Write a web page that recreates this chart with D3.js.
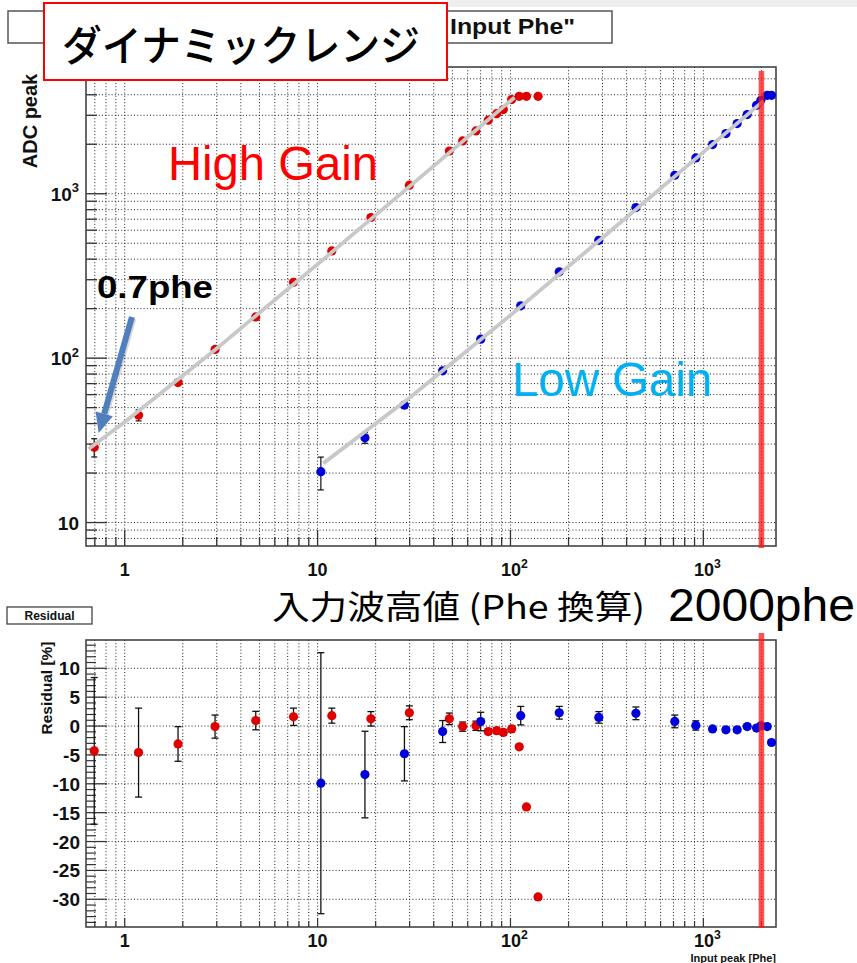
<!DOCTYPE html>
<html><head><meta charset="utf-8">
<script src="https://cdn.jsdelivr.net/npm/d3@7"></script>
<style>body{margin:0;background:#fff}svg{display:block}</style>
</head><body><svg id="c" width="857" height="963"></svg>
<script>
// ---- High Gain data (input phe, ADC peak, residual %, residual error %)
const hgX = [0.695, 1.18, 1.89, 2.94, 4.78, 7.5, 11.85, 18.9, 29.9, 48.2, 56.5, 66.2, 76.7, 84.8, 91.8, 101.4, 111, 121, 139];
const hgY = [28.7, 45, 71, 113, 178, 289, 449, 717, 1127, 1820, 2095, 2410, 2800, 3070, 3250, 3740, 3915, 3915, 3915];
const hgRes = [-4.3, -4.6, -3.1, -0.1, 0.95, 1.6, 1.8, 1.25, 2.3, 1.25, -0.1, 0.05, -0.95, -0.8, -1.1, -0.5, -3.6, -14.0, -29.6];
const hgResErr = [12.7, 7.7, 3.0, 2.0, 1.6, 1.5, 1.3, 1.25, 1.2, 1.0, 0.8, 0.8, 0.5, 0.5, 0.5, 0.5, 0.4, 0.4, 0.4];
// ---- Low Gain data
const lgX = [10.4, 17.6, 28.2, 44.5, 70.1, 113, 179, 287, 447, 711, 914, 1116, 1309, 1497, 1687, 1887, 1987, 2142, 2256];
const lgY = [20.4, 32.8, 51.8, 83.7, 130.4, 208, 335, 521, 824, 1295, 1651, 1991, 2322, 2672, 3030, 3450, 3700, 3970, 3970];
const lgRes = [-9.9, -8.4, -4.8, -0.95, 0.78, 1.8, 2.3, 1.5, 2.2, 0.8, 0.1, -0.5, -0.65, -0.65, -0.1, -0.35, 0.05, -0.1, -2.85];
const lgResErr = [22.6, 7.5, 4.7, 1.9, 1.6, 1.6, 1.1, 1.0, 1.1, 1.1, 0.8, 0.4, 0.4, 0.4, 0.4, 0.4, 0.4, 0.4, 0.4];
// ---- fit lines
const hgFitX = [0.65, 1, 3, 10, 30, 105];
const hgFitY = [28.0, 40.9, 114.6, 372.5, 1109, 3850];
const lgFitX = [10.7, 30, 100, 300, 1000, 2050];
const lgFitY = [22.9, 57.4, 182.5, 540, 1791, 3667];
// ---- tick labels
const xMajor = [1, 10, 100, 1000];
const xMajorLabels = ["1", "10", "10^2", "10^3"];
const yTopMajor = [10, 100, 1000];
const yTopLabels = ["10", "10^2", "10^3"];
const yBotMajor = [10, 5, 0, -5, -10, -15, -20, -25, -30];
const yBotLabels = ["10", "5", "0", "-5", "-10", "-15", "-20", "-25", "-30"];
const limitPhe = 2000;
const arrowFrom = [1.09, 178], arrowTo = [0.733, 35];

const svg = d3.select('#c');
const F = '"Liberation Sans", Arial, Helvetica, sans-serif';
const J = '"Noto Sans CJK JP", sans-serif';
const RED = '#e00000', BLUE = '#0000dd', GRID = '#222';

function supText(sel, txt, fs) {
  const p = txt.split('^');
  sel.append('tspan').text(p[0]);
  if (p.length > 1) sel.append('tspan').attr('dy', -fs * 0.45).attr('font-size', fs * 0.68).text(p[1]);
}

svg.append('rect').attr('width', 857).attr('height', 963).attr('fill', '#fff');
svg.append('rect').attr('x', 447).attr('y', 0).attr('width', 410).attr('height', 7).attr('fill', '#efefef');

// ================= TOP PLOT =================
const T = {l: 86, r: 776, t: 67, b: 546};
const x = d3.scaleLog().domain([0.63, 2380]).range([T.l, T.r]);
const y = d3.scaleLog().domain([7.2, 5900]).range([T.b, T.t]);
const isDec = v => Math.abs(Math.log10(Math.abs(v)) - Math.round(Math.log10(Math.abs(v)))) < 1e-6;
const xt = x.ticks(), yt = y.ticks();

const gT = svg.append('g');
gT.selectAll('.vg').data(xt).join('line').attr('x1', d => x(d)).attr('x2', d => x(d)).attr('y1', T.t).attr('y2', T.b)
  .attr('stroke', GRID).attr('stroke-width', 1).attr('stroke-dasharray', '1,2.2');
gT.selectAll('.hg').data(yt).join('line').attr('y1', d => y(d)).attr('y2', d => y(d)).attr('x1', T.l).attr('x2', T.r)
  .attr('stroke', GRID).attr('stroke-width', 1).attr('stroke-dasharray', '1,2.2');
// ticks
gT.selectAll('.yt').data(yt).join('line').attr('x1', T.l).attr('x2', d => T.l + (isDec(d) ? 21 : 11))
  .attr('y1', d => y(d)).attr('y2', d => y(d)).attr('stroke', '#333').attr('stroke-width', 1.3);
gT.selectAll('.xt').data(xt).join('line').attr('y1', T.b).attr('y2', d => T.b - (isDec(d) ? 16 : 9))
  .attr('x1', d => x(d)).attr('x2', d => x(d)).attr('stroke', '#333').attr('stroke-width', 1.3);
gT.append('rect').attr('x', T.l).attr('y', T.t).attr('width', T.r - T.l).attr('height', T.b - T.t)
  .attr('fill', 'none').attr('stroke', '#444').attr('stroke-width', 1.6);
// tick labels
yTopMajor.forEach((v, i) => {
  const t = gT.append('text').attr('x', 79).attr('y', y(v) + 7).attr('text-anchor', 'end')
    .attr('font-family', F).attr('font-weight', 'bold').attr('font-size', 19).attr('fill', '#111');
  supText(t, yTopLabels[i], 19);
});
xMajor.forEach((v, i) => {
  const t = gT.append('text').attr('x', x(v) + (i > 1 ? 4 : 0)).attr('y', 576).attr('text-anchor', 'middle')
    .attr('font-family', F).attr('font-weight', 'bold').attr('font-size', 18).attr('fill', '#111');
  supText(t, xMajorLabels[i], 18);
});
gT.append('text').attr('transform', 'translate(37,121) rotate(-90)').attr('text-anchor', 'middle')
  .attr('font-family', F).attr('font-weight', 'bold').attr('font-size', 20).attr('fill', '#111').text('ADC peak');

// error bars top
function errBarsTop(X, Y, E) {
  const d = X.map((v, i) => ({x: v, y: Y[i], e: Y[i] * E[i] / 100}));
  const g = gT.append('g').attr('stroke', '#111').attr('stroke-width', 1.2);
  g.selectAll('line.v').data(d).join('line').attr('x1', d => x(d.x)).attr('x2', d => x(d.x))
    .attr('y1', d => y(d.y - d.e)).attr('y2', d => y(d.y + d.e));
  g.selectAll('line.a').data(d).join('line').attr('x1', d => x(d.x) - 3).attr('x2', d => x(d.x) + 3)
    .attr('y1', d => y(d.y - d.e)).attr('y2', d => y(d.y - d.e));
  g.selectAll('line.b').data(d).join('line').attr('x1', d => x(d.x) - 3).attr('x2', d => x(d.x) + 3)
    .attr('y1', d => y(d.y + d.e)).attr('y2', d => y(d.y + d.e));
}
errBarsTop(hgX, hgY, hgResErr);
errBarsTop(lgX, lgY, lgResErr);
gT.selectAll('.hp').data(hgX).join('circle').attr('cx', d => x(d)).attr('cy', (d, i) => y(hgY[i])).attr('r', 4.6).attr('fill', RED);
gT.selectAll('.lp').data(lgX).join('circle').attr('cx', d => x(d)).attr('cy', (d, i) => y(lgY[i])).attr('r', 4.6).attr('fill', BLUE);
const line = d3.line().x(d => x(d[0])).y(d => y(d[1]));
gT.append('path').attr('d', line(hgFitX.map((v, i) => [v, hgFitY[i]]))).attr('fill', 'none')
  .attr('stroke', '#c8c8c8').attr('stroke-width', 3.8);
gT.append('path').attr('d', line(lgFitX.map((v, i) => [v, lgFitY[i]]))).attr('fill', 'none')
  .attr('stroke', '#c8c8c8').attr('stroke-width', 3.8);
// red limit line
gT.append('line').attr('x1', x(limitPhe)).attr('x2', x(limitPhe)).attr('y1', 71).attr('y2', 548)
  .attr('stroke', 'rgba(255,20,20,0.75)').attr('stroke-width', 5.5);

// annotations
gT.append('text').attr('x', 168).attr('y', 180).attr('font-family', F).attr('font-size', 48)
  .attr('textLength', 210).attr('lengthAdjust', 'spacingAndGlyphs').attr('fill', '#ff0000').text('High Gain');
gT.append('text').attr('x', 512).attr('y', 396).attr('font-family', F).attr('font-size', 48)
  .attr('textLength', 200).attr('lengthAdjust', 'spacingAndGlyphs').attr('fill', '#00b0f0').text('Low Gain');
gT.append('text').attr('x', 97).attr('y', 298).attr('font-family', F).attr('font-weight', 'bold').attr('font-size', 31)
  .attr('textLength', 116).attr('lengthAdjust', 'spacingAndGlyphs').attr('fill', '#000').text('0.7phe');
// arrow
{
  const x0 = x(arrowFrom[0]), y0 = y(arrowFrom[1]), x1 = x(arrowTo[0]), y1 = y(arrowTo[1]);
  const L = Math.hypot(x1 - x0, y1 - y0), ux = (x1 - x0) / L, uy = (y1 - y0) / L, nx = -uy, ny = ux;
  const hl = 20, hw = 9, bx = x1 - hl * ux, by = y1 - hl * uy;
  const ga = gT.append('g');
  ga.append('line').attr('x1', x0 + 1.5).attr('y1', y0 + 1.5).attr('x2', bx + 1.5).attr('y2', by + 1.5).attr('stroke', 'rgba(0,0,0,0.15)').attr('stroke-width', 6);
  ga.append('line').attr('x1', x0).attr('y1', y0).attr('x2', bx).attr('y2', by).attr('stroke', '#4f7fbd').attr('stroke-width', 6);
  ga.append('path').attr('d', `M${x1},${y1}L${bx + hw * nx},${by + hw * ny}L${bx - hw * nx},${by - hw * ny}Z`).attr('fill', '#4f7fbd');
}

// title boxes
svg.append('rect').attr('x', 8).attr('y', 11).attr('width', 604).attr('height', 32).attr('fill', '#fff').attr('stroke', '#555').attr('stroke-width', 1.5);
svg.append('text').attr('x', 450).attr('y', 34).attr('font-family', F).attr('font-weight', 'bold').attr('font-size', 22)
  .attr('textLength', 125).attr('lengthAdjust', 'spacingAndGlyphs').attr('fill', '#111').text('Input Phe"');
svg.append('rect').attr('x', 44).attr('y', 3).attr('width', 403).attr('height', 77).attr('fill', '#fff').attr('stroke', '#ff0000').attr('stroke-width', 2);
svg.append('text').attr('x', 62).attr('y', 42).attr('dominant-baseline', 'central').attr('font-family', J).attr('font-weight', 500).attr('font-size', 42)
  .attr('textLength', 358).attr('lengthAdjust', 'spacingAndGlyphs').attr('fill', '#000').text('ダイナミックレンジ');

// x title texts
svg.append('text').attr('x', 272).attr('y', 605).attr('dominant-baseline', 'central').attr('font-family', J).attr('font-size', 33)
  .attr('textLength', 373).attr('lengthAdjust', 'spacingAndGlyphs').attr('fill', '#000').text('入力波高値 (Phe 換算)');
svg.append('text').attr('x', 668).attr('y', 621).attr('font-family', F).attr('font-size', 46)
  .attr('textLength', 187).attr('lengthAdjust', 'spacingAndGlyphs').attr('fill', '#000').text('2000phe');

// ================= BOTTOM PLOT =================
const B = {l: 86, r: 776, t: 640, b: 927};
const yb = d3.scaleLinear().domain([-34.8, 14.9]).range([B.b, B.t]);
const gB = svg.append('g');
gB.append('rect').attr('x', 7).attr('y', 607).attr('width', 85).attr('height', 17).attr('fill', '#fff').attr('stroke', '#444').attr('stroke-width', 1.3);
gB.append('text').attr('x', 49.5).attr('y', 620).attr('text-anchor', 'middle').attr('font-family', F).attr('font-weight', 'bold')
  .attr('font-size', 12).attr('fill', '#111').text('Residual');
gB.selectAll('.vg').data(xt).join('line').attr('x1', d => x(d)).attr('x2', d => x(d)).attr('y1', B.t).attr('y2', B.b)
  .attr('stroke', GRID).attr('stroke-width', 1).attr('stroke-dasharray', '1,2.2');
gB.selectAll('.hg').data(yBotMajor).join('line').attr('y1', d => yb(d)).attr('y2', d => yb(d)).attr('x1', B.l).attr('x2', B.r)
  .attr('stroke', GRID).attr('stroke-width', 1).attr('stroke-dasharray', '1,2.2');
const ybt = d3.range(-34, 15, 1);
gB.selectAll('.yt').data(ybt).join('line').attr('x1', B.l).attr('x2', d => B.l + (d % 5 === 0 ? 21 : 10))
  .attr('y1', d => yb(d)).attr('y2', d => yb(d)).attr('stroke', '#333').attr('stroke-width', 1.2);
gB.selectAll('.xt').data(xt).join('line').attr('y1', B.b).attr('y2', d => B.b - (isDec(d) ? 9 : 6))
  .attr('x1', d => x(d)).attr('x2', d => x(d)).attr('stroke', '#333').attr('stroke-width', 1.2);
gB.append('rect').attr('x', B.l).attr('y', B.t).attr('width', B.r - B.l).attr('height', B.b - B.t)
  .attr('fill', 'none').attr('stroke', '#444').attr('stroke-width', 1.6);
yBotMajor.forEach((v, i) => {
  gB.append('text').attr('x', 80).attr('y', yb(v) + 7).attr('text-anchor', 'end').attr('font-family', F).attr('font-weight', 'bold')
    .attr('font-size', 19).attr('fill', '#111').text(yBotLabels[i]);
});
xMajor.forEach((v, i) => {
  const t = gB.append('text').attr('x', x(v) + (i > 1 ? 4 : 0)).attr('y', 947).attr('text-anchor', 'middle')
    .attr('font-family', F).attr('font-weight', 'bold').attr('font-size', 18).attr('fill', '#111');
  supText(t, xMajorLabels[i], 18);
});
gB.append('text').attr('transform', 'translate(52,688) rotate(-90)').attr('text-anchor', 'middle')
  .attr('font-family', F).attr('font-weight', 'bold').attr('font-size', 15.5).attr('fill', '#111').text('Residual [%]');
gB.append('text').attr('x', 776).attr('y', 962).attr('text-anchor', 'end').attr('font-family', F).attr('font-weight', 'bold')
  .attr('font-size', 11).attr('fill', '#111').text('Input peak  [Phe]');

function resSeries(X, R, E, col) {
  const d = X.map((v, i) => ({x: v, r: R[i], e: E[i]}));
  const g = gB.append('g');
  const ge = g.append('g').attr('stroke', '#111').attr('stroke-width', 1.3);
  ge.selectAll('line.v').data(d).join('line').attr('x1', d => x(d.x)).attr('x2', d => x(d.x))
    .attr('y1', d => yb(d.r - d.e)).attr('y2', d => yb(d.r + d.e));
  ge.selectAll('line.a').data(d).join('line').attr('x1', d => x(d.x) - 3.5).attr('x2', d => x(d.x) + 3.5)
    .attr('y1', d => yb(d.r - d.e)).attr('y2', d => yb(d.r - d.e));
  ge.selectAll('line.b').data(d).join('line').attr('x1', d => x(d.x) - 3.5).attr('x2', d => x(d.x) + 3.5)
    .attr('y1', d => yb(d.r + d.e)).attr('y2', d => yb(d.r + d.e));
  g.selectAll('circle').data(d).join('circle').attr('cx', d => x(d.x)).attr('cy', d => yb(d.r)).attr('r', 4.6).attr('fill', col);
}
resSeries(hgX, hgRes, hgResErr, RED);
resSeries(lgX, lgRes, lgResErr, BLUE);
gB.append('line').attr('x1', x(limitPhe)).attr('x2', x(limitPhe)).attr('y1', 633).attr('y2', 928)
  .attr('stroke', 'rgba(255,20,20,0.75)').attr('stroke-width', 5.5);
</script></body></html>
